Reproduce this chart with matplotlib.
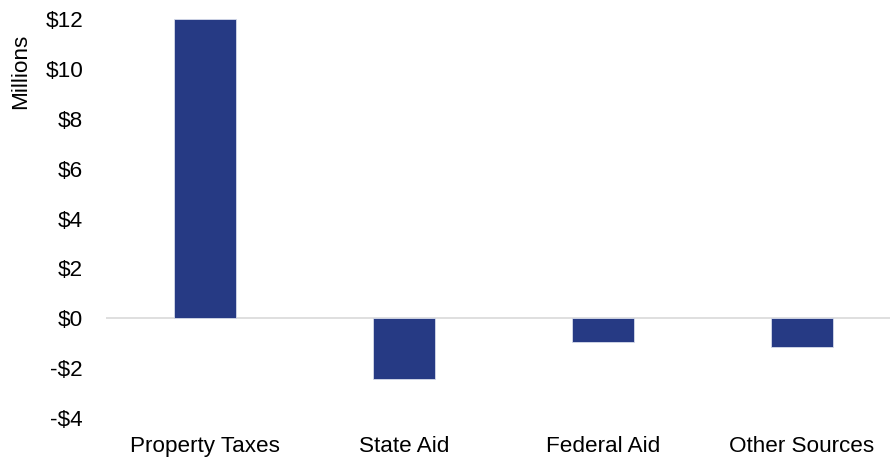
import matplotlib
matplotlib.use("Agg")
import matplotlib.pyplot as plt
from matplotlib.ticker import FuncFormatter

categories = ["Property Taxes", "State Aid", "Federal Aid", "Other Sources"]
values = [12.0, -2.44, -0.96, -1.16]
yticks = [-4, -2, 0, 2, 4, 6, 8, 10, 12]

plt.rcParams['font.family'] = ['Liberation Sans', 'DejaVu Sans']

fig = plt.figure(figsize=(8.9, 4.62), dpi=100)
ax = fig.add_axes([0.1191, 0.095, 0.8809, 0.864])

x = range(len(categories))
ax.bar(x, values, width=0.31, color="#263a84", edgecolor="#d6dbea", linewidth=0.6, zorder=3)
ax.axhline(0, color="#d9d9d9", linewidth=1.2, zorder=2)

ax.set_ylim(-4, 12)
ax.set_xlim(-0.4975, 3.442)
ax.set_yticks(yticks)
ax.yaxis.set_major_formatter(FuncFormatter(lambda v, p: f"-${-v:.0f}" if v < 0 else f"${v:.0f}"))
ax.set_xticks(list(x))
ax.set_xticklabels(categories)
ax.tick_params(axis="both", length=0, labelsize=16.2, colors="#000000")
ax.tick_params(axis="y", pad=16.5)
ax.tick_params(axis="x", pad=13)
ax.set_ylabel("Millions", fontsize=16.2)
ax.yaxis.set_label_coords(-0.096, 0.87)

for s in ax.spines.values():
    s.set_visible(False)

fig.savefig("out.png", dpi=100)
